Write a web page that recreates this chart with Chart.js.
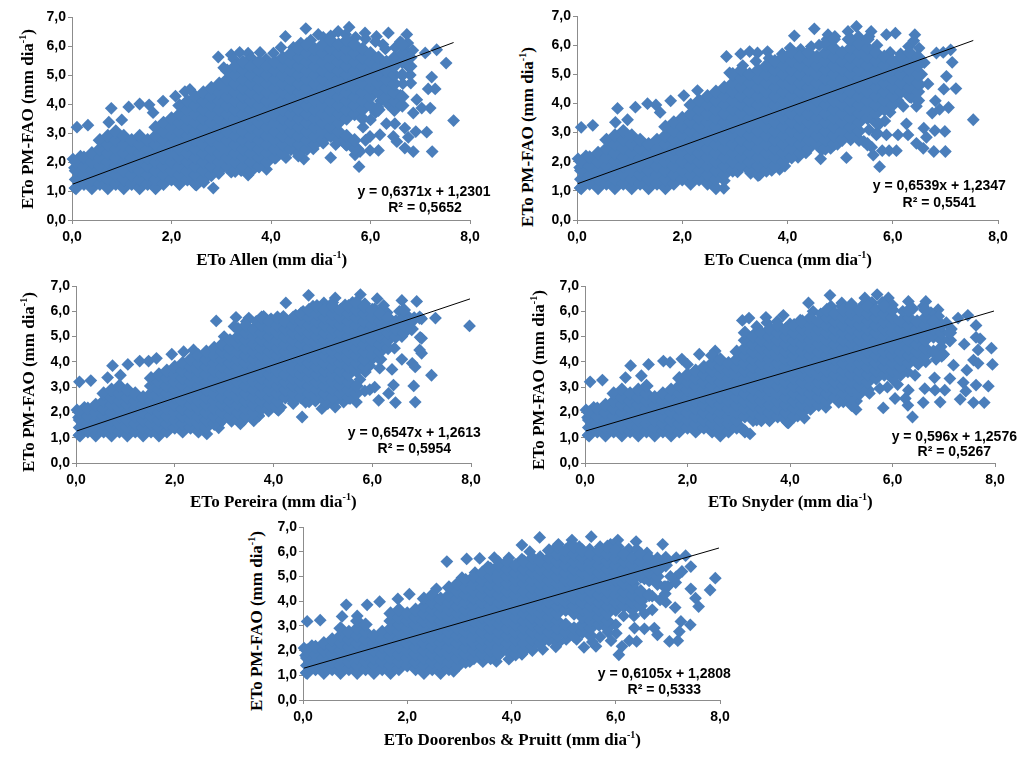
<!DOCTYPE html>
<html lang="en">
<head>
  <meta charset="UTF-8">
  <title>ETo PM-FAO scatter charts</title>
  <script src="https://cdn.jsdelivr.net/npm/chart.js"></script>
  <style>
    html, body { margin: 0; padding: 0; background: #fff; }
    #page { position: relative; width: 1024px; height: 767px; overflow: hidden; }
    canvas { position: absolute; }
    .lbl { position: absolute; white-space: nowrap; color: #000; font-weight: bold; transform: translate(-50%, -50%); }
    .axisTitle { font: bold 17px "Liberation Serif", serif; }
    .eq { font: bold 14px "Liberation Sans", sans-serif; }
    sup { font-size: 10px; line-height: 0; }
  </style>
</head>
<body>
<div id="page"></div>
<script>
  // x position of each column of points (the clouds are solid, so they are read column by column)
  const colX = [0.08,0.24,0.4,0.56,0.72,0.88,1.04,1.2,1.36,1.52,1.68,1.84,2,2.16,2.32,2.48,2.64,2.8,2.96,3.12,3.28,3.44,3.6,3.76,3.92,4.08,4.24,4.4,4.56,4.72,4.88,5.04,5.2,5.36,5.52,5.68,5.84,6,6.16,6.32,6.48,6.64,6.8,6.96,7.12];
  const xTicks = [0, 2, 4, 6, 8];
  const yTicks = [0, 1, 2, 3, 4, 5, 6, 7];

  // ETo Allen
  const allenCols = [
    [1.1,1.4,1.7,2],[1.25,1.55,1.85,2.15],[1.1,1.4,1.7,2,2.3],[1.25,1.55,1.85,2.15,2.45,2.75],[1.1,1.4,1.7,2,2.3,2.6,2.9],[1.25,1.55,1.85,2.15,2.45,2.75,3.05],
    [1.1,1.4,1.7,2,2.3,2.6,2.9],[1.25,1.55,1.85,2.15,2.45,2.75],[1.1,1.4,1.7,2,2.3,2.6,2.9],[1.25,1.55,1.85,2.15,2.45,2.75],[1.1,1.4,1.7,2,2.3,2.6,2.9,3.2],[1.25,1.55,1.85,2.15,2.45,2.75,3.05,3.35],
    [1.4,1.7,2,2.3,2.6,2.9,3.2,3.5],[1.25,1.55,1.85,2.15,2.45,2.75,3.05,3.35,3.65,3.95],[1.4,1.7,2,2.3,2.6,2.9,3.2,3.5,3.8,4.1],[1.25,1.55,1.85,2.15,2.45,2.75,3.05,3.35,3.65,3.95,4.25],
    [1.4,1.7,2,2.3,2.6,2.9,3.2,3.5,3.8,4.1,4.4],[1.55,1.85,2.15,2.45,2.75,3.05,3.35,3.65,3.95,4.25,4.55],[1.7,2,2.3,2.6,2.9,3.2,3.5,3.8,4.1,4.4,4.7],[1.85,2.15,2.45,2.75,3.05,3.35,3.65,3.95,4.25,4.55,4.85,5.15],
    [1.7,2,2.3,2.6,2.9,3.2,3.5,3.8,4.1,4.4,4.7,5,5.3],[1.85,2.15,2.45,2.75,3.05,3.35,3.65,3.95,4.25,4.55,4.85,5.15,5.45],[1.7,2,2.3,2.6,2.9,3.2,3.5,3.8,4.1,4.4,4.7,5,5.3],[1.85,2.15,2.45,2.75,3.05,3.35,3.65,3.95,4.25,4.55,4.85,5.15,5.45],
    [2,2.3,2.6,2.9,3.2,3.5,3.8,4.1,4.4,4.7,5,5.3],[2.15,2.45,2.75,3.05,3.35,3.65,3.95,4.25,4.55,4.85,5.15,5.45],[2.3,2.6,2.9,3.2,3.5,3.8,4.1,4.4,4.7,5,5.3,5.6],[2.45,2.75,3.05,3.35,3.65,3.95,4.25,4.55,4.85,5.15,5.45,5.75],
    [2.3,2.6,2.9,3.2,3.5,3.8,4.1,4.4,4.7,5,5.3,5.6,5.9],[2.45,2.75,3.05,3.35,3.65,3.95,4.25,4.55,4.85,5.15,5.45,5.75,6.05],[2.6,2.9,3.2,3.5,3.8,4.1,4.4,4.7,5,5.3,5.6,5.9],[2.75,3.05,3.35,3.65,3.95,4.25,4.55,4.85,5.15,5.45,5.75,6.05],
    [2.9,3.2,3.5,3.8,4.1,4.4,4.7,5,5.3,5.6,5.9,6.2],[2.75,3.05,3.35,3.65,3.95,4.25,4.55,4.85,5.15,5.45,5.75,6.05],[2.6,2.9,3.5,3.8,4.1,4.4,4.7,5,5.3,5.6,5.9,6.2],[2.45,2.75,3.65,3.95,4.25,4.55,4.85,5.15,5.45,5.75,6.05],
    [3.5,3.8,4.1,4.4,4.7,5,5.3,5.6,5.9],[3.95,4.25,4.55,4.85,5.15,5.45,5.75],[3.8,4.4,4.7,5,5.3,5.6],[4.25,4.55,4.85,5.15,5.45],[3.8,4.1,4.4,4.7,5,5.3,5.6],[3.95,4.25,5,5.45,5.75,6.05],[5.3,5.6]
  ];
  const allenOutX = [0.1,0.32,0.74,0.79,1,1.14,1.36,1.55,1.63,1.83,2.08,2.27,2.37,2.94,3.2,3.37,3.54,3.78,4.29,4.7,4.95,5.35,5.57,5.89,6.12,6.36,6.73,7.1,7.33,7.52,7.23,7.16,7.3,6.81,6.93,7.2,6.86,7.03,7.67,6.69,6.91,7.13,6.76,6.86,7.24,6.69,6.53,6.46,6.49,6.32,6.19,5.99,6.16,5.99,5.79,5.77,5.69,5.2,4.66,3.91,3.54,2.84,
    3.05,3.25,3.6,3.9,4.05,4.2,4.45,4.6,4.8,5.05,5.2,5.5,5.7,5.9,6.1,6.25,6.5,6.6,6.75,6.7,2.5,2.65,2.95,3.2,3.4,3.75,4.1,4.3,4.55,4.85,5.05,5.3,5.5,5.75,5.9,5.85,6,6.1,6.2,6.15,6.35,6.45,6.55,6.6,6.5,6.65,6.8,6.75,6.3,6.45,6.6,6.8,6.85,0.02,0.06,0.05,0.17];
  const allenOutY = [3.2,3.27,3.37,3.85,3.45,3.9,4,3.97,3.7,4.1,4.27,4.43,4.5,5.62,5.7,5.78,5.75,5.78,6.33,6.6,6.4,6.5,6.65,6.45,6.33,6.45,6.4,5.76,5.87,5.41,4.93,4.52,4.52,4.72,4.15,3.86,3.69,3.86,3.43,3.17,3.05,3.03,2.85,2.36,2.36,2.48,2.7,2.88,3.32,3.32,2.94,2.88,2.4,2.4,2.36,1.84,2.25,2.15,2.1,1.75,1.55,1.1,
    5.25,5.55,5.6,5.55,5.75,5.95,5.95,6.1,6.2,6.3,6.35,6.4,6.3,6.25,6.15,6.05,5.95,6.15,6.1,5.85,1.2,1.3,1.6,1.65,1.7,1.85,2.15,2.15,2.2,2.45,2.65,2.6,2.6,2.45,2.75,3.2,3.45,3.7,4.1,3.9,4,4.4,4,4.3,4.7,4.7,5,5.3,5.9,5.3,5.5,5.6,5.85,2.1,1.1,1.8,2.2];
  const allenFitX = [0.02, 7.67];
  const allenFitY = [1.24, 6.12];

  // ETo Cuenca
  const cuencaCols = [
    [1.1,1.4,1.7,2],[1.25,1.55,1.85,2.15],[1.1,1.4,1.7,2,2.3],[1.25,1.55,1.85,2.15,2.45,2.75],[1.1,1.4,1.7,2,2.3,2.6,2.9],[1.25,1.55,1.85,2.15,2.45,2.75,3.05],
    [1.1,1.4,1.7,2,2.3,2.6,2.9],[1.25,1.55,1.85,2.15,2.45,2.75],[1.1,1.4,1.7,2,2.3,2.6],[1.25,1.55,1.85,2.15,2.45,2.75],[1.1,1.4,1.7,2,2.3,2.6,2.9,3.2],[1.25,1.55,1.85,2.15,2.45,2.75,3.05,3.35],
    [1.4,1.7,2,2.3,2.6,2.9,3.2,3.5],[1.25,1.55,1.85,2.15,2.45,2.75,3.05,3.35,3.65,3.95],[1.4,1.7,2,2.3,2.6,2.9,3.2,3.5,3.8,4.1],[1.25,1.55,1.85,2.15,2.45,2.75,3.05,3.35,3.65,3.95,4.25],
    [1.1,1.4,1.7,2,2.3,2.6,2.9,3.2,3.5,3.8,4.1,4.4],[1.55,1.85,2.15,2.45,2.75,3.05,3.35,3.65,3.95,4.25,4.55],[1.7,2,2.3,2.6,2.9,3.2,3.5,3.8,4.1,4.4,4.7,5],[1.85,2.15,2.45,2.75,3.05,3.35,3.65,3.95,4.25,4.55,4.85,5.15],
    [1.7,2,2.3,2.6,2.9,3.2,3.5,3.8,4.1,4.4,4.7,5],[1.55,1.85,2.15,2.45,2.75,3.05,3.35,3.65,3.95,4.25,4.55,4.85,5.15],[1.7,2,2.3,2.6,2.9,3.2,3.5,3.8,4.1,4.4,4.7,5,5.3],[1.85,2.15,2.45,2.75,3.05,3.35,3.65,3.95,4.25,4.55,4.85,5.15,5.45],
    [2,2.3,2.6,2.9,3.2,3.5,3.8,4.1,4.4,4.7,5,5.3,5.6],[2.15,2.45,2.75,3.05,3.35,3.65,3.95,4.25,4.55,4.85,5.15,5.45,5.75],[2.3,2.6,2.9,3.2,3.5,3.8,4.1,4.4,4.7,5,5.3,5.6],[2.45,2.75,3.05,3.35,3.65,3.95,4.25,4.55,4.85,5.15,5.45,5.75],
    [2.6,2.9,3.2,3.5,3.8,4.1,4.4,4.7,5,5.3,5.6],[2.45,2.75,3.05,3.35,3.65,3.95,4.25,4.55,4.85,5.15,5.45,5.75,6.05],[2.6,2.9,3.2,3.5,3.8,4.1,4.4,4.7,5,5.3,5.6,5.9,6.2],[2.75,3.05,3.35,3.65,3.95,4.25,4.55,4.85,5.15,5.45,5.75],
    [2.9,3.2,3.5,3.8,4.1,4.4,4.7,5,5.3,5.6,5.9,6.2],[2.75,3.05,3.35,3.65,3.95,4.25,4.55,4.85,5.15,5.45,5.75,6.05],[2.6,3.5,3.8,4.1,4.4,4.7,5,5.3,5.6,5.9,6.2],[3.35,3.65,3.95,4.25,4.55,4.85,5.15,5.45,5.75],
    [3.8,4.1,4.4,4.7,5,5.3,5.6],[3.95,4.25,4.55,4.85,5.15,5.45],[4.4,4.7,5,5.3,5.6],[4.25,4.55,4.85,5.15,5.45,5.75],[4.1,4.4,4.7,5,5.3,5.6]
  ];
  const cuencaOutX = [0.08,0.3,0.73,0.77,0.96,1.11,1.34,1.5,1.58,1.78,2.03,2.29,2.84,3.11,3.28,3.43,3.62,4.13,4.51,4.77,5.15,5.31,5.59,5.88,6.05,6.42,6.83,6.96,7.1,7.13,7.02,6.97,7.2,6.67,6.81,7.06,6.75,6.89,7.53,6.59,6.8,6.99,6.64,6.78,7,6.58,6.45,6.29,6.26,6.1,5.88,5.69,6.07,5.93,5.8,5.75,5.63,5.12,4.63,3.85,3.47,2.79,4.82,
    2.9,3.15,3.4,3.65,3.9,4.05,4.25,4.45,4.6,4.75,4.9,5.15,5.35,5.55,5.7,5.95,6.15,6.3,6.4,6.5,2.8,3.05,3.3,3.7,3.95,4.2,4.35,4.65,4.95,5.2,5.45,5.6,5.7,5.85,5.95,6.1,6.2,6.35,6.45,6.5,6.55,6.6,5.75,5.55,0.02,0.06,0.05,0.17];
  const cuencaOutY = [3.18,3.25,3.35,3.83,3.44,3.87,3.99,3.95,3.69,4.09,4.27,4.44,5.61,5.7,5.78,5.73,5.78,6.32,6.56,6.36,6.47,6.64,6.47,6.36,6.41,6.36,5.73,5.75,5.84,5.41,4.93,4.49,4.51,4.67,4.09,3.86,3.67,3.8,3.44,3.15,3.07,3.04,2.84,2.35,2.35,2.46,2.63,2.92,3.3,2.92,2.92,2.92,2.38,2.38,2.38,1.83,2.23,2.14,2.1,1.74,1.55,1.09,2.46,
    5.05,5.3,5.45,5.55,5.7,5.9,5.85,5.95,6,6.2,6.3,6.2,6.3,6.3,6,5.75,5.7,5.95,6.15,5.9,1.35,1.65,1.6,1.7,1.85,2.15,2.3,2.4,2.6,2.75,2.7,2.5,3,3.4,3.7,4.1,3.9,4.2,3.9,4.6,5,5.4,3.3,3.1,2.1,1.1,1.8,2.2];
  const cuencaFitX = [0.02, 7.53];
  const cuencaFitY = [1.25, 6.16];

  // ETo Pereira
  const pereiraCols = [
    [1.1,1.4,1.7,2],[1.25,1.55,1.85,2.15],[1.1,1.4,1.7,2,2.3],[1.25,1.55,1.85,2.15,2.45,2.75],[1.1,1.4,1.7,2,2.3,2.6,2.9],[1.25,1.55,1.85,2.15,2.45,2.75,3.05],
    [1.1,1.4,1.7,2,2.3,2.6,2.9],[1.25,1.55,1.85,2.15,2.45,2.75],[1.1,1.4,1.7,2,2.3,2.6],[1.25,1.55,1.85,2.15,2.45,2.75,3.05,3.35],[1.1,1.4,1.7,2,2.3,2.6,2.9,3.2,3.5],[1.25,1.55,1.85,2.15,2.45,2.75,3.05,3.35,3.65],
    [1.4,1.7,2,2.3,2.6,2.9,3.2,3.5,3.8],[1.25,1.55,1.85,2.15,2.45,2.75,3.05,3.35,3.65,3.95],[1.4,1.7,2,2.3,2.6,2.9,3.2,3.5,3.8,4.1],[1.25,1.55,1.85,2.15,2.45,2.75,3.05,3.35,3.65,3.95,4.25],
    [1.4,1.7,2,2.3,2.6,2.9,3.2,3.5,3.8,4.1,4.4],[1.55,1.85,2.15,2.45,2.75,3.05,3.35,3.65,3.95,4.25,4.55],[1.7,2,2.3,2.6,2.9,3.2,3.5,3.8,4.1,4.4,4.7],[1.85,2.15,2.45,2.75,3.05,3.35,3.65,3.95,4.25,4.55,4.85],
    [1.7,2,2.3,2.6,2.9,3.2,3.5,3.8,4.1,4.4,4.7,5,5.3],[1.85,2.15,2.45,2.75,3.05,3.35,3.65,3.95,4.25,4.55,4.85,5.15,5.45],[1.7,2,2.3,2.6,2.9,3.2,3.5,3.8,4.1,4.4,4.7,5,5.3],[2.15,2.45,2.75,3.05,3.35,3.65,3.95,4.25,4.55,4.85,5.15,5.45,5.75],
    [2.3,2.6,2.9,3.2,3.5,3.8,4.1,4.4,4.7,5,5.3,5.6],[2.15,2.45,2.75,3.05,3.35,3.65,3.95,4.25,4.55,4.85,5.15,5.45,5.75],[2.6,2.9,3.2,3.5,3.8,4.1,4.4,4.7,5,5.3,5.6],[2.45,2.75,3.05,3.35,3.65,3.95,4.25,4.55,4.85,5.15,5.45,5.75],
    [2.6,2.9,3.2,3.5,3.8,4.1,4.4,4.7,5,5.3,5.6,5.9],[2.45,2.75,3.05,3.35,3.65,3.95,4.25,4.55,4.85,5.15,5.45,5.75,6.05],[2.6,2.9,3.2,3.5,3.8,4.1,4.4,4.7,5,5.3,5.6,5.9,6.2],[2.45,2.75,3.05,3.35,3.65,3.95,4.25,4.55,4.85,5.15,5.45,5.75,6.05],
    [2.6,2.9,3.2,3.5,3.8,4.1,4.4,4.7,5,5.3,5.6,5.9,6.2],[2.75,3.05,3.35,3.65,3.95,4.25,4.55,4.85,5.15,5.45,5.75,6.05],[2.6,2.9,3.2,3.5,3.8,4.1,4.4,4.7,5,5.3,5.6,5.9,6.2],[2.75,3.05,3.65,3.95,4.25,4.55,4.85,5.15,5.45,5.75,6.05,6.35],
    [3.8,4.1,4.4,4.7,5,5.3,5.6,5.9,6.2],[4.25,4.55,4.85,5.15,5.45,5.75,6.05],[4.1,4.4,4.7,5,5.3,5.6,5.9],[4.55,4.85,5.15,5.45,5.75],[5,5.3,5.6],[5.15,5.45,5.75,6.05],[5.3,5.6],[5.75]
  ];
  const pereiraOutX = [0.07,0.3,0.64,0.74,0.9,1.05,1.29,1.47,1.63,1.94,2.18,2.38,2.84,3.24,3.5,3.8,4.25,4.71,5.02,5.25,5.76,6.1,6.23,6.6,6.9,7.28,7.97,6.97,7,6.96,7,6.45,6.6,6.81,6.87,6.4,7.2,6.84,6.43,6.87,6.47,6.13,6.33,5.86,5.68,5.42,5.25,4.98,4.58,2.65,2.89,3.33,3.7,4.1,
    3,3.2,3.45,3.65,3.95,4.2,4.45,4.6,4.8,5.05,5.2,5.45,5.6,5.85,6.05,6.3,6.55,6.7,6.85,7,6.75,6.5,6.3,6.15,6.25,6.4,6.6,6,5.95,5.8,5.75,5.6,5.95,6.05,6.15,5.85,2.9,3.15,3.4,3.7,3.9,4.15,4.4,4.65,4.85,5.1,5.3,5.55,0.02,0.06,0.05,0.17];
  const pereiraOutY = [3.21,3.26,3.38,3.85,3.47,3.9,4.03,4.03,4.14,4.3,4.4,4.47,5.62,5.76,5.73,5.8,6.33,6.63,6.33,6.53,6.66,6.5,6.23,6.43,6.39,5.73,5.42,4.97,4.93,4.47,4.34,4.54,4.1,3.94,3.8,3.7,3.47,3.05,3.08,2.41,2.39,2.48,2.75,3.6,2.41,2.41,2.21,2.15,1.82,1.15,1.39,1.55,1.88,2.08,
    5,5.4,5.6,5.6,5.7,5.8,5.85,6,6.2,6.2,6.35,6.25,6.35,6.3,6.1,5.95,6,5.85,5.75,5.7,5.5,5.3,5.3,4.6,4.8,5.1,5,4.1,3.85,4,3.3,2.9,2.9,3,3.75,2.85,1.55,1.65,1.7,1.85,2.05,2.2,2.35,2.4,2.45,2.35,2.55,2.55,2.1,1.1,1.8,2.2];
  const pereiraFitX = [0.02, 7.98];
  const pereiraFitY = [1.27, 6.49];

  // ETo Snyder
  const snyderCols = [
    [1.1,1.4,1.7,2],[1.25,1.55,1.85,2.15],[1.1,1.4,1.7,2,2.3],[1.25,1.55,1.85,2.15,2.45,2.75],[1.1,1.4,1.7,2,2.3,2.6,2.9],[1.25,1.55,1.85,2.15,2.45,2.75],
    [1.1,1.4,1.7,2,2.3,2.6,2.9],[1.25,1.55,1.85,2.15,2.45,2.75,3.05],[1.1,1.4,1.7,2,2.3,2.6],[1.25,1.55,1.85,2.15,2.45,2.75],[1.1,1.4,1.7,2,2.3,2.6,2.9],[1.25,1.55,1.85,2.15,2.45,2.75,3.05,3.35],
    [1.4,1.7,2,2.3,2.6,2.9,3.2,3.5],[1.25,1.55,1.85,2.15,2.45,2.75,3.05,3.35,3.65],[1.4,1.7,2,2.3,2.6,2.9,3.2,3.5,3.8],[1.25,1.55,1.85,2.15,2.45,2.75,3.05,3.35,3.65,3.95,4.25],
    [1.1,1.4,1.7,2,2.3,2.6,2.9,3.2,3.5,3.8,4.1],[1.25,1.55,1.85,2.15,2.45,2.75,3.05,3.35,3.65,3.95],[1.4,1.7,2,2.3,2.6,2.9,3.2,3.5,3.8,4.1,4.4],[1.25,1.85,2.15,2.45,2.75,3.05,3.35,3.65,3.95,4.25,4.55,4.85,5.15],
    [1.7,2,2.3,2.6,2.9,3.2,3.5,3.8,4.1,4.4,4.7,5],[1.7,1.85,2.15,2.45,2.75,3.05,3.35,3.65,3.95,4.25,4.55,4.85,5.15],[1.7,2,2.3,2.6,2.9,3.2,3.5,3.8,4.1,4.4,4.7,5,5.3],[1.85,2.15,2.45,2.75,3.05,3.35,3.65,3.95,4.25,4.55,4.85,5.15,5.45],
    [1.7,2,2.3,2.6,2.9,3.2,3.5,3.8,4.1,4.4,4.7,5,5.3],[1.85,2.15,2.45,2.75,3.05,3.35,3.65,3.95,4.25,4.55,4.85,5.15,5.45],[2,2.3,2.6,2.9,3.2,3.5,3.8,4.1,4.4,4.7,5,5.3,5.6],[2.15,2.45,2.75,3.05,3.35,3.65,3.95,4.25,4.55,4.85,5.15,5.45,5.75],
    [2.3,2.6,2.9,3.2,3.5,3.8,4.1,4.4,4.7,5,5.3,5.6],[2.45,2.75,3.05,3.35,3.65,3.95,4.25,4.55,4.85,5.15,5.45,5.75,6.05],[2.6,2.9,3.2,3.5,3.8,4.1,4.4,4.7,5,5.3,5.6,5.9],[2.45,2.75,3.05,3.35,3.65,3.95,4.25,4.55,4.85,5.15,5.45,5.75,6.05],
    [2.3,2.6,2.9,3.2,3.5,3.8,4.1,4.4,4.7,5,5.3,5.6,5.9,6.2],[2.75,3.05,3.35,3.65,3.95,4.25,4.55,4.85,5.15,5.45,5.75,6.05],[2.9,3.2,3.5,3.8,4.1,4.4,4.7,5,5.3,5.6,5.9,6.2],[3.35,3.65,3.95,4.25,4.55,4.85,5.15,5.45,5.75,6.05],
    [3.5,3.8,4.1,4.4,4.7,5,5.3,5.6,5.9,6.2],[3.35,3.65,3.95,4.25,4.55,4.85,5.15,5.45,5.75,6.05],[3.5,3.8,4.1,4.4,4.7,5,5.3,5.6],[3.95,4.25,4.55,4.85,5.15,5.45,5.75,6.05],[4.1,4.4,4.7,5,5.3,5.6],[4.25,4.55,4.85,5.15,5.45,5.75,6.05],[4.4,5,5.3,5.6],[4.25,4.85,5.15,5.45],[4.85,5.15]
  ];
  const snyderOutX = [0.1,0.34,0.79,0.89,1.1,1.24,1.53,1.66,1.89,2,2.23,2.54,3.07,3.2,3.35,3.53,3.87,4.36,4.78,5.01,5.46,5.7,5.92,6.31,6.65,6.89,7.28,7.47,7.63,7.63,7.71,7.4,7.67,7.93,7.58,7.67,7.95,7.45,7.19,7.12,7.38,7.63,7.87,7.43,7.32,7.58,7.79,6.93,6.6,6.63,6.82,7.02,6.83,6.44,6.31,6.3,6.39,5.82,5.29,4.28,3.97,3.22,2.8,
    3.3,3.55,3.75,4,4.2,4.45,4.6,4.8,5,5.2,5.4,5.6,5.8,6,6.2,6.4,6.6,6.75,6.9,7.05,7.15,7.1,6.95,7,6.85,6.65,6.5,6.3,6.1,5.9,5.75,6.05,6.25,5.55,5.3,3.05,3.35,3.6,3.95,4.15,4.4,4.7,4.95,0.02,0.06,0.05,0.17];
  const snyderOutY = [3.21,3.28,3.38,3.85,3.45,3.9,4.03,3.98,4.11,3.9,4.3,4.43,5.64,5.73,5.4,5.76,5.84,6.33,6.63,6.33,6.53,6.66,6.53,6.39,6.39,6.06,5.73,5.84,5.44,4.97,4.91,4.7,4.47,4.54,4.07,3.94,3.9,3.67,3.87,3.34,3.18,3.08,3.04,2.84,2.52,2.39,2.39,2.41,2.39,2.94,3.37,2.88,2.88,3.47,2.88,2.28,1.82,2.18,2.12,1.78,1.59,1.15,1.29,
    5.1,5.55,5.6,5.5,5.65,6,5.9,6.2,6.2,6.3,6.2,6.35,6.35,6.25,6,6.1,6.2,5.95,5.8,5.55,5.3,4.9,4.6,4.3,4.1,4,3.9,3.6,3.1,3,2.95,2.55,2.55,2.75,2.45,1.4,1.7,1.7,1.6,1.85,2.15,2.2,2.4,2.1,1.1,1.8,2.2];
  const snyderFitX = [0.02, 7.98];
  const snyderFitY = [1.27, 6.01];

  // ETo Doorenbos & Pruitt
  const doorenbosCols = [
    [1.1,1.4,1.7,2],[1.25,1.55,1.85,2.15],[1.1,1.4,1.7,2,2.3],[1.25,1.55,1.85,2.15,2.45],[1.1,1.4,1.7,2,2.3,2.6,2.9],[1.25,1.55,1.85,2.15,2.45,2.75],
    [1.1,1.4,1.7,2,2.3,2.6,2.9,3.2],[1.25,1.55,1.85,2.15,2.45,2.75,3.05],[1.1,1.4,1.7,2,2.3,2.6],[1.25,1.55,1.85,2.15,2.45,2.75],[1.1,1.4,1.7,2,2.3,2.6,2.9,3.2,3.5],[1.25,1.55,1.85,2.15,2.45,2.75,3.05,3.35,3.65],
    [1.4,1.7,2,2.3,2.6,2.9,3.2,3.5],[1.25,1.55,1.85,2.15,2.45,2.75,3.05,3.35,3.65],[1.1,1.4,1.7,2,2.3,2.6,2.9,3.2,3.5,3.8,4.1],[1.25,1.55,1.85,2.15,2.45,2.75,3.05,3.35,3.65,3.95,4.25],
    [1.1,1.4,1.7,2,2.3,2.6,2.9,3.2,3.5,3.8,4.1],[1.25,1.55,1.85,2.15,2.45,2.75,3.05,3.35,3.65,3.95,4.25,4.55],[1.4,1.7,2,2.3,2.6,2.9,3.2,3.5,3.8,4.1,4.4,4.7],[1.55,1.85,2.15,2.45,2.75,3.05,3.35,3.65,3.95,4.25,4.55,4.85],
    [1.7,2,2.3,2.6,2.9,3.2,3.5,3.8,4.1,4.4,4.7,5],[1.85,2.15,2.45,2.75,3.05,3.35,3.65,3.95,4.25,4.55,4.85,5.15],[1.7,2,2.3,2.6,2.9,3.2,3.5,3.8,4.1,4.4,4.7,5,5.3],[1.85,2.15,2.45,2.75,3.05,3.35,3.65,3.95,4.25,4.55,4.85,5.15,5.45],
    [2,2.3,2.6,2.9,3.2,3.5,3.8,4.1,4.4,4.7,5,5.3,5.6],[1.85,2.15,2.45,2.75,3.05,3.35,3.65,3.95,4.25,4.55,4.85,5.15,5.45],[2,2.3,2.6,2.9,3.2,3.5,3.8,4.1,4.4,4.7,5,5.3,5.6],[2.15,2.45,2.75,3.05,3.35,3.65,3.95,4.25,4.55,4.85,5.15,5.45,5.75],
    [2.3,2.6,2.9,3.2,3.5,3.8,4.1,4.4,4.7,5,5.3,5.6],[2.45,2.75,3.05,3.35,3.65,3.95,4.25,4.55,4.85,5.15,5.45,5.75,6.05],[2.3,2.6,2.9,3.2,3.5,3.8,4.1,4.4,4.7,5,5.3,5.6,5.9,6.2],[2.75,3.05,3.65,3.95,4.25,4.55,4.85,5.15,5.45,5.75,6.05],
    [2.6,2.9,3.5,3.8,4.1,4.4,4.7,5,5.3,5.6,5.9,6.2],[2.75,3.05,3.35,3.65,3.95,4.25,4.55,4.85,5.15,5.45,5.75,6.05],[2.6,2.9,3.2,3.5,3.8,4.1,4.4,4.7,5,5.3,5.6,5.9],[3.05,3.35,3.65,3.95,4.25,4.55,4.85,5.15,5.45,5.75,6.05],
    [2.9,3.2,3.5,3.8,4.1,4.4,4.7,5,5.3,5.6,5.9,6.2],[3.65,3.95,4.25,4.55,4.85,5.15,5.45,5.75,6.05],[3.8,4.1,4.4,4.7,5,5.3,5.6,5.9],[3.65,3.95,4.25,4.55,4.85,5.15,5.45,5.75],[3.8,4.1,4.4,5,5.3,5.6,5.9],[4.25,4.85,5.15,5.45,5.75],[4.7,5,5.3,5.6],[4.55,5.45,5.75]
  ];
  const doorenbosOutX = [0.08,0.33,0.75,0.83,1.04,1.23,1.47,1.82,2.04,2.56,2.76,3.14,3.39,3.67,4.2,4.54,5.16,5.53,6.04,6.39,6.9,7.16,7.34,7.27,7.44,7.91,7.81,7.44,7.16,6.93,7.53,7.59,7.14,6.96,6.7,7.43,7.25,7.22,7.19,7.03,6.8,6.74,6.4,6.26,6.12,6.06,5.62,5.39,3.71,2.89,5.91,6.01,6.55,6.36,
    3.05,3.3,3.55,3.75,3.95,4.2,4.35,4.55,4.75,4.9,5.1,5.3,5.5,5.7,5.9,6.05,6.25,6.4,6.6,6.8,7,6.85,6.65,6.55,6.35,6.45,6.3,6.55,6.35,6.15,6,5.85,5.7,5.5,5.7,5.85,5.55,5.25,5.05,6.15,6.3,6.5,6.7,6.85,6.95,7,7.15,7.05,3,3.2,3.45,3.95,4.2,4.4,4.6,4.85,0.02,0.06,0.05,0.17];
  const doorenbosOutY = [3.18,3.23,3.38,3.85,3.4,3.85,3.98,4.09,4.28,4.5,5.6,5.71,5.73,5.76,6.27,6.58,6.47,6.61,6.47,6.41,6.3,5.76,5.84,5.2,5.4,4.93,4.45,4.5,4.99,4.59,4.12,3.78,3.74,3.96,3.65,3.04,3.18,2.77,2.4,2.37,2.64,2.91,2.37,2.4,2.17,1.83,2.17,2.13,1.56,1.16,2.4,2.7,2.88,2.91,
    4.95,5.15,5.4,5.6,5.75,5.7,6,5.8,6,6.3,6.2,6.2,6.1,6.2,6.3,6.2,6.1,6.1,5.95,5.75,5.65,5.3,5.2,4.9,4.7,4.3,3.9,3.5,3.4,3.4,3.05,2.75,2.55,3.3,3.3,3.2,2.35,2.45,2.45,4.2,4.4,4,4.2,4.05,4.3,4.6,4.75,5,1.4,1.55,1.55,1.65,1.85,2,2.05,2.15,2.1,1.1,1.8,2.2];
  const doorenbosFitX = [0.02, 7.98];
  const doorenbosFitY = [1.29, 6.15];

  const yTitle = 'ETo PM-FAO (mm dia<sup>-1</sup>)';

  // plot rectangles and label centres, in page pixels
  const panels = [
    { cols: allenCols, outX: allenOutX, outY: allenOutY, fitX: allenFitX, fitY: allenFitY, x0: 72.3, x8: 470, y7: 17.3, y0: 220,
      xTitle: 'ETo Allen (mm dia<sup>-1</sup>)', xt: [271.7, 260], yt: [28, 119], eq: 'y = 0,6371x + 1,2301', r2: 'R² = 0,5652', eqAt: [424, 190.7], r2At: [425, 206.7] },
    { cols: cuencaCols, outX: cuencaOutX, outY: cuencaOutY, fitX: cuencaFitX, fitY: cuencaFitY, x0: 577.3, x8: 998.7, y7: 16, y0: 220,
      xTitle: 'ETo Cuenca (mm dia<sup>-1</sup>)', xt: [788, 260], yt: [527.7, 137], eq: 'y = 0,6539x + 1,2347', r2: 'R² = 0,5541', eqAt: [939.3, 185], r2At: [939.3, 201.7] },
    { cols: pereiraCols, outX: pereiraOutX, outY: pereiraOutY, fitX: pereiraFitX, fitY: pereiraFitY, x0: 75.7, x8: 470.7, y7: 285.7, y0: 462.3,
      xTitle: 'ETo Pereira (mm dia<sup>-1</sup>)', xt: [273.3, 501.7], yt: [29.3, 381.7], eq: 'y = 0,6547x + 1,2613', r2: 'R² = 0,5954', eqAt: [414.3, 431.7], r2At: [414.3, 448.3] },
    { cols: snyderCols, outX: snyderOutX, outY: snyderOutY, fitX: snyderFitX, fitY: snyderFitY, x0: 585.3, x8: 995.3, y7: 285.7, y0: 462.3,
      xTitle: 'ETo Snyder (mm dia<sup>-1</sup>)', xt: [790.3, 501.7], yt: [539.3, 380], eq: 'y = 0,596x + 1,2576', r2: 'R² = 0,5267', eqAt: [954.3, 435.7], r2At: [954.3, 451] },
    { cols: doorenbosCols, outX: doorenbosOutX, outY: doorenbosOutY, fitX: doorenbosFitX, fitY: doorenbosFitY, x0: 303.3, x8: 720.7, y7: 527, y0: 700.3,
      xTitle: 'ETo Doorenbos &amp; Pruitt (mm dia<sup>-1</sup>)', xt: [512.3, 740], yt: [257.3, 620.8], eq: 'y = 0,6105x + 1,2808', r2: 'R² = 0,5333', eqAt: [664.3, 673.3], r2At: [664.3, 689] }
  ];

  const page = document.getElementById('page');
  const axisGrey = '#8c8c8c';
  const pointBlue = '#4a7ebb';
  const tickFont = { family: '"Liberation Sans", sans-serif', size: 14, weight: 'bold' };

  function addLabel(html, cls, at, rotate) {
    const el = document.createElement('div');
    el.className = 'lbl ' + cls;
    el.innerHTML = html;
    el.style.left = at[0] + 'px';
    el.style.top = at[1] + 'px';
    if (rotate) el.style.transform = 'translate(-50%, -50%) rotate(-90deg)';
    page.appendChild(el);
  }

  panels.forEach(p => {
    const leftRoom = 36, rightRoom = 20, topRoom = 12, bottomRoom = 30;
    const canvas = document.createElement('canvas');
    canvas.width = Math.round(p.x8 - p.x0 + leftRoom + rightRoom);
    canvas.height = Math.round(p.y0 - p.y7 + topRoom + bottomRoom);
    canvas.style.left = (p.x0 - leftRoom) + 'px';
    canvas.style.top = (p.y7 - topRoom) + 'px';
    page.appendChild(canvas);

    const corePoints = colX.flatMap((x, i) => (p.cols[i] || []).map(y => ({ x, y })));
    const loosePoints = p.outX.map((x, i) => ({ x, y: p.outY[i] }));

    new Chart(canvas, {
      type: 'scatter',
      data: {
        datasets: [
          { data: p.fitX.map((x, i) => ({ x, y: p.fitY[i] })), showLine: true, borderColor: '#000', borderWidth: 1, pointRadius: 0, order: 0 },
          // the core markers are a little larger so no seams show inside the solid cloud
          { data: corePoints, pointStyle: 'rectRot', pointRadius: 7.2, backgroundColor: pointBlue, borderWidth: 0, clip: false, order: 1 },
          { data: loosePoints, pointStyle: 'rectRot', pointRadius: 6.4, backgroundColor: pointBlue, borderWidth: 0, clip: false, order: 2 }
        ]
      },
      options: {
        responsive: false,
        animation: false,
        layout: { padding: { left: 0, right: rightRoom, top: topRoom, bottom: 0 } },
        plugins: { legend: { display: false }, tooltip: { enabled: false } },
        scales: {
          x: {
            min: 0, max: 8,
            afterFit: s => { s.height = bottomRoom; },
            afterBuildTicks: s => { s.ticks = xTicks.map(value => ({ value })); },
            grid: { drawOnChartArea: false, color: axisGrey, tickLength: 4 },
            border: { color: axisGrey },
            ticks: { font: tickFont, color: '#000', padding: 5, maxRotation: 0, callback: v => v.toFixed(1).replace('.', ',') }
          },
          y: {
            min: 0, max: 7,
            afterFit: s => { s.width = leftRoom; },
            afterBuildTicks: s => { s.ticks = yTicks.map(value => ({ value })); },
            grid: { drawOnChartArea: false, color: axisGrey, tickLength: 4 },
            border: { color: axisGrey },
            ticks: { font: tickFont, color: '#000', padding: 2, callback: v => v.toFixed(1).replace('.', ',') }
          }
        }
      }
    });

    addLabel(p.xTitle, 'axisTitle', p.xt, false);
    addLabel(yTitle, 'axisTitle', p.yt, true);
    addLabel(p.eq, 'eq', p.eqAt, false);
    addLabel(p.r2, 'eq', p.r2At, false);
  });
</script>
</body>
</html>
